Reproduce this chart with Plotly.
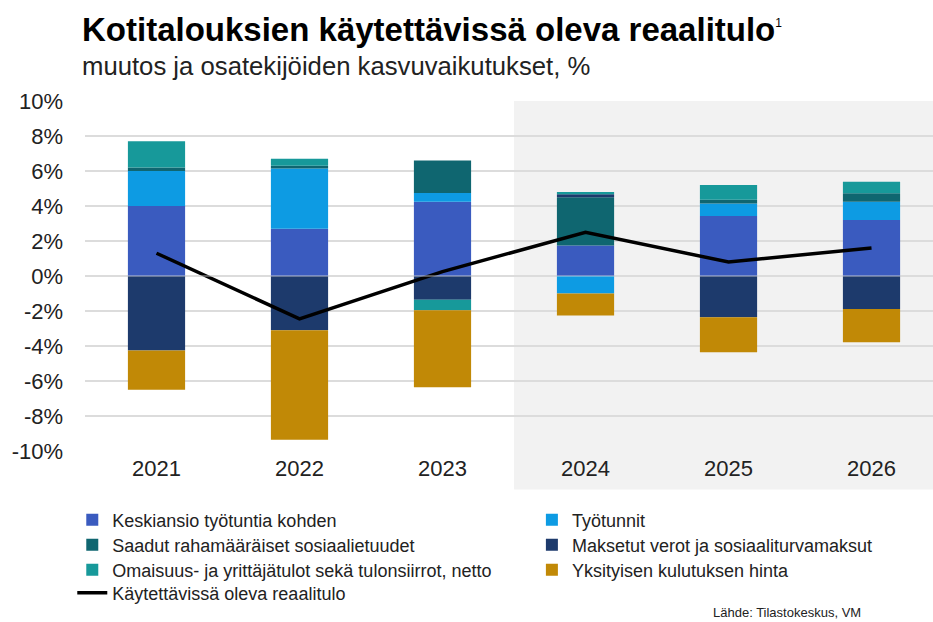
import plotly.graph_objects as go

years = ["2021", "2022", "2023", "2024", "2025", "2026"]

keskiansio = [4.0, 2.7, 4.25, 1.75, 3.43, 3.2]
tyotunnit = [2.0, 3.45, 0.5, -1.0, 0.72, 1.05]
saadut = [0.2, 0.15, 1.85, 2.75, 0.2, 0.48]
maksetut = [-4.25, -3.1, -1.35, 0.17, -2.36, -1.88]
omaisuus = [1.5, 0.4, -0.6, 0.13, 0.85, 0.65]
yksityisen = [-2.25, -6.25, -4.4, -1.25, -2.0, -1.9]
reaalitulo = [1.3, -2.45, 0.25, 2.5, 0.8, 1.6]

y_ticks = [-10, -8, -6, -4, -2, 0, 2, 4, 6, 8, 10]
y_tick_labels = [f"{v}%" for v in y_ticks]

series = [
    ("Keskiansio työtuntia kohden", keskiansio, "#3a5bbf"),
    ("Työtunnit", tyotunnit, "#0d9be3"),
    ("Saadut rahamääräiset sosiaalietuudet", saadut, "#0f6670"),
    ("Maksetut verot ja sosiaaliturvamaksut", maksetut, "#1d3a6c"),
    ("Omaisuus- ja yrittäjätulot sekä tulonsiirrot, netto", omaisuus, "#17999a"),
    ("Yksityisen kulutuksen hinta", yksityisen, "#c18906"),
]

# legend slots: (x paper, row centre in px below plot bottom)
legend_names = ["legend", "legend2", "legend3", "legend4", "legend5", "legend6", "legend7"]
col_x = [-0.015, 0.527]
row_px = [69, 94, 119, 142]
plot_h = 350

fig = go.Figure()
for i, (name, vals, col) in enumerate(series):
    fig.add_trace(go.Bar(x=years, y=vals, name=name, legend=legend_names[i],
                         marker=dict(color=col, line=dict(width=0))))

fig.add_trace(go.Scatter(x=years, y=reaalitulo, name="Käytettävissä oleva reaalitulo",
                         legend=legend_names[6],
                         mode="lines", line=dict(color="black", width=3.5)))

fig.add_shape(type="rect", xref="x", yref="paper", x0=2.5, x1=6.5, y0=-0.11, y1=1,
              fillcolor="#f2f2f2", line=dict(width=0), layer="below")
fig.add_shape(type="line", xref="paper", yref="y", x0=0, x1=1, y0=0, y1=0,
              line=dict(color="rgba(220,220,220,0.8)", width=1), layer="above")

legend_layouts = {}
for i, lg in enumerate(legend_names):
    legend_layouts[lg] = dict(
        x=col_x[i % 2], xanchor="left",
        y=-row_px[i // 2] / plot_h, yanchor="middle",
        orientation="v", font=dict(size=18, color="#222"), itemwidth=30,
        bgcolor="rgba(0,0,0,0)",
    )

fig.update_layout(
    width=933, height=622,
    barmode="relative", bargap=0.6,
    plot_bgcolor="rgba(0,0,0,0)", paper_bgcolor="white",
    margin=dict(l=85, r=0, t=101, b=171, autoexpand=False),
    font=dict(family="Liberation Sans, Arial, sans-serif", color="#222"),
    showlegend=True,
    xaxis=dict(range=[-0.5, 5.43], showgrid=False, zeroline=False, showline=False,
               automargin=False,
               tickfont=dict(size=22, color="#222"), ticks="", ticklabelstandoff=2),
    yaxis=dict(range=[-10, 10], tickvals=y_ticks, ticktext=y_tick_labels,
               automargin=False,
               showgrid=True, gridcolor="#dcdcdc", gridwidth=1.5, zeroline=False,
               tickfont=dict(size=22, color="#222"), ticks="", ticklabelstandoff=21),
    **legend_layouts,
)

fig.add_annotation(xref="paper", yref="paper", x=-0.006, y=1.205, xanchor="left", yanchor="middle",
                   text="<b>Kotitalouksien käytettävissä oleva reaalitulo</b><sup><span style='font-size:12px'>1</span></sup>",
                   showarrow=False, font=dict(size=33, color="black"))
fig.add_annotation(xref="paper", yref="paper", x=-0.006, y=1.1, xanchor="left", yanchor="middle",
                   text="muutos ja osatekijöiden kasvuvaikutukset, %",
                   showarrow=False, font=dict(size=25.7, color="#222"))
fig.add_annotation(xref="paper", yref="paper", x=0.917, y=-0.46, xanchor="right", yanchor="middle",
                   text="Lähde: Tilastokeskus, VM",
                   showarrow=False, font=dict(size=13, color="#222"))

fig.write_html("out.html", config={"displayModeBar": False},
               post_script="document.body.style.margin='0';document.body.style.overflow='hidden';")
